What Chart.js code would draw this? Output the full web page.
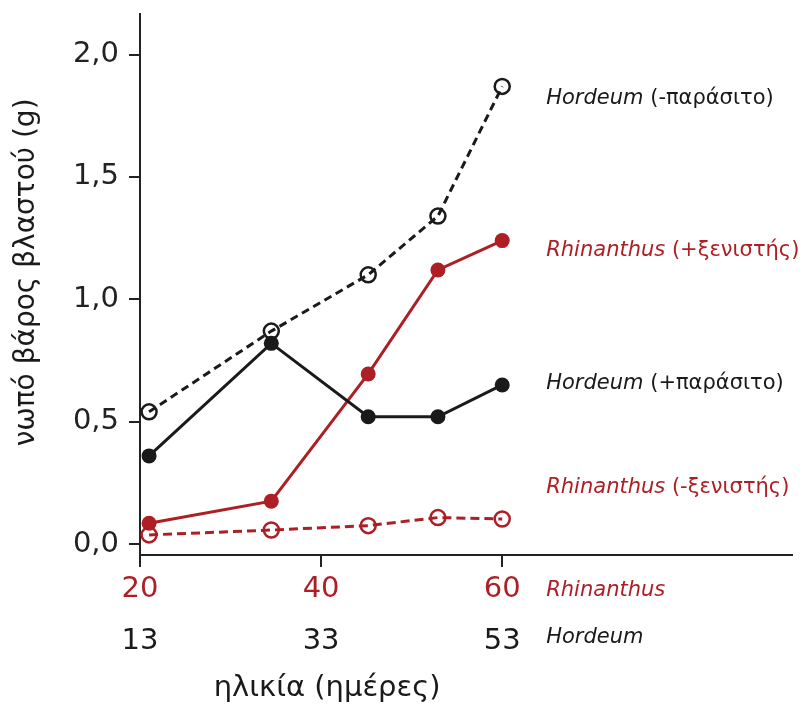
<!DOCTYPE html>
<html>
<head>
<meta charset="utf-8">
<script src="https://cdn.jsdelivr.net/npm/chart.js@4.4.1/dist/chart.umd.min.js"></script>
<style>
  body { margin: 0; background: #fff; }
  #wrap { width: 805px; height: 704px; }
</style>
</head>
<body>
<div id="wrap"><canvas id="myChart" width="805" height="704"></canvas></div>
<script>
// ages (days) of Rhinanthus at each harvest; Hordeum is 7 days younger
var rhinAges = [21, 34.5, 45.2, 52.9, 60];
var hordAges = [14, 27.5, 38.2, 45.9, 53];

// shoot fresh weight (g)
var hordNoParasite = [0.54, 0.87, 1.10, 1.34, 1.87];
var hordParasite = [0.36, 0.82, 0.52, 0.52, 0.65];
var rhinHost = [0.085, 0.175, 0.695, 1.12, 1.24];
var rhinNoHost = [0.037, 0.057, 0.075, 0.108, 0.102];

var yTicks = [0, 0.5, 1, 1.5, 2];
var rhinTicks = [20, 40, 60];
var hordTicks = [13, 33, 53];

// series names and the height (in g) where each one is written
var seriesNames = ["Hordeum", "Rhinanthus", "Hordeum", "Rhinanthus"];
var seriesNotes = [" (-παράσιτο)", " (+ξενιστής)", " (+παράσιτο)", " (-ξενιστής)"];
var noteLevels = [1.82, 1.20, 0.655, 0.23];

var RED = "#ad1f24";
var BLACK = "#1a1a1a";
var FONT = "'DejaVu Sans', Verdana, sans-serif";

function pts(xs, ys) {
  return xs.map(function (x, i) { return { x: x, y: ys[i] }; });
}

function noPad(s) {
  s.paddingTop = 0;
  s.paddingBottom = 0;
  s.paddingLeft = 0;
  s.paddingRight = 0;
}

var labelsPlugin = {
  id: "sideLabels",
  afterDraw: function (chart) {
    var ctx = chart.ctx;
    var xs = chart.scales.x;
    var xh = chart.scales.x2;
    var ys = chart.scales.y;
    var colors = [BLACK, RED, BLACK, RED];
    var left = xs.getPixelForValue(60) + 44;

    function writeLabel(name, note, color, y) {
      ctx.fillStyle = color;
      ctx.font = "italic 21px " + FONT;
      ctx.fillText(name, left, y);
      var w = ctx.measureText(name).width;
      ctx.font = "21px " + FONT;
      if (note) ctx.fillText(note, left + w, y);
    }

    ctx.save();
    ctx.textAlign = "left";
    ctx.textBaseline = "middle";
    for (var i = 0; i < seriesNames.length; i++) {
      writeLabel(seriesNames[i], seriesNotes[i], colors[i], ys.getPixelForValue(noteLevels[i]));
    }
    writeLabel("Rhinanthus", "", RED, xs.top + 36);
    writeLabel("Hordeum", "", BLACK, xh.top + 31);

    ctx.fillStyle = BLACK;
    ctx.font = "29px " + FONT;
    ctx.textAlign = "center";
    ctx.fillText("ηλικία (ημέρες)", xs.getPixelForValue(40) + 6, xh.top + 81);

    // y axis title
    ctx.translate(27, ys.getPixelForValue(1.11));
    ctx.rotate(-Math.PI / 2);
    ctx.font = "28px " + FONT;
    ctx.fillText("νωπό βάρος βλαστού (g)", 0, 0);
    ctx.restore();
  }
};

var ctx = document.getElementById("myChart").getContext("2d");
var myChart = new Chart(ctx, {
  type: "line",
  data: {
    datasets: [
      {
        label: "Rhinanthus (-ξενιστής)",
        data: pts(rhinAges, rhinNoHost),
        xAxisID: "x",
        borderColor: RED,
        borderDash: [9, 5],
        borderWidth: 3,
        pointRadius: 7.5,
        pointBorderWidth: 2.5,
        pointBorderColor: RED,
        pointBackgroundColor: "rgba(0,0,0,0)"
      },
      {
        label: "Hordeum (-παράσιτο)",
        data: pts(hordAges, hordNoParasite),
        xAxisID: "x2",
        borderColor: BLACK,
        borderDash: [8, 5],
        borderWidth: 3,
        pointRadius: 7.5,
        pointBorderWidth: 2.5,
        pointBorderColor: BLACK,
        pointBackgroundColor: "rgba(0,0,0,0)"
      },
      {
        label: "Hordeum (+παράσιτο)",
        data: pts(hordAges, hordParasite),
        xAxisID: "x2",
        borderColor: BLACK,
        borderWidth: 3,
        pointRadius: 7.5,
        pointBorderWidth: 0,
        pointBackgroundColor: BLACK
      },
      {
        label: "Rhinanthus (+ξενιστής)",
        data: pts(rhinAges, rhinHost),
        xAxisID: "x",
        borderColor: RED,
        borderWidth: 3,
        pointRadius: 7.5,
        pointBorderWidth: 0,
        pointBackgroundColor: RED
      }
    ]
  },
  options: {
    responsive: false,
    animation: false,
    layout: { padding: { top: 14, right: 13, left: 0, bottom: 0 } },
    plugins: { legend: { display: false }, tooltip: { enabled: false } },
    elements: { line: { tension: 0, fill: false } },
    scales: {
      x: {
        type: "linear",
        position: "bottom",
        weight: 1,
        min: 20,
        max: 92,
        afterBuildTicks: function (s) { s.ticks = rhinTicks.map(function (v) { return { value: v }; }); },
        afterFit: function (s) { s.height = 52; noPad(s); },
        grid: { drawOnChartArea: false, tickLength: 12, color: "#222", lineWidth: 2 },
        border: { color: "#222", width: 2 },
        ticks: { color: RED, padding: 5, font: { family: FONT, size: 29 }, maxRotation: 0 }
      },
      x2: {
        type: "linear",
        position: "bottom",
        weight: 2,
        min: 13,
        max: 85,
        afterBuildTicks: function (s) { s.ticks = hordTicks.map(function (v) { return { value: v }; }); },
        afterFit: function (s) { s.height = 97; noPad(s); },
        grid: { display: false },
        border: { display: false },
        ticks: { color: BLACK, padding: 9, font: { family: FONT, size: 29 }, maxRotation: 0 }
      },
      y: {
        type: "linear",
        position: "left",
        min: -0.045,
        max: 2.166,
        afterBuildTicks: function (s) { s.ticks = yTicks.map(function (v) { return { value: v }; }); },
        afterFit: function (s) { s.width = 140; noPad(s); },
        grid: { drawOnChartArea: false, tickLength: 11, color: "#222", lineWidth: 2 },
        border: { color: "#222", width: 2 },
        ticks: {
          color: "#222",
          padding: 10,
          font: { family: FONT, size: 29 },
          callback: function (v) { return v.toFixed(1).replace(".", ","); }
        }
      }
    }
  },
  plugins: [labelsPlugin]
});
</script>
</body>
</html>
